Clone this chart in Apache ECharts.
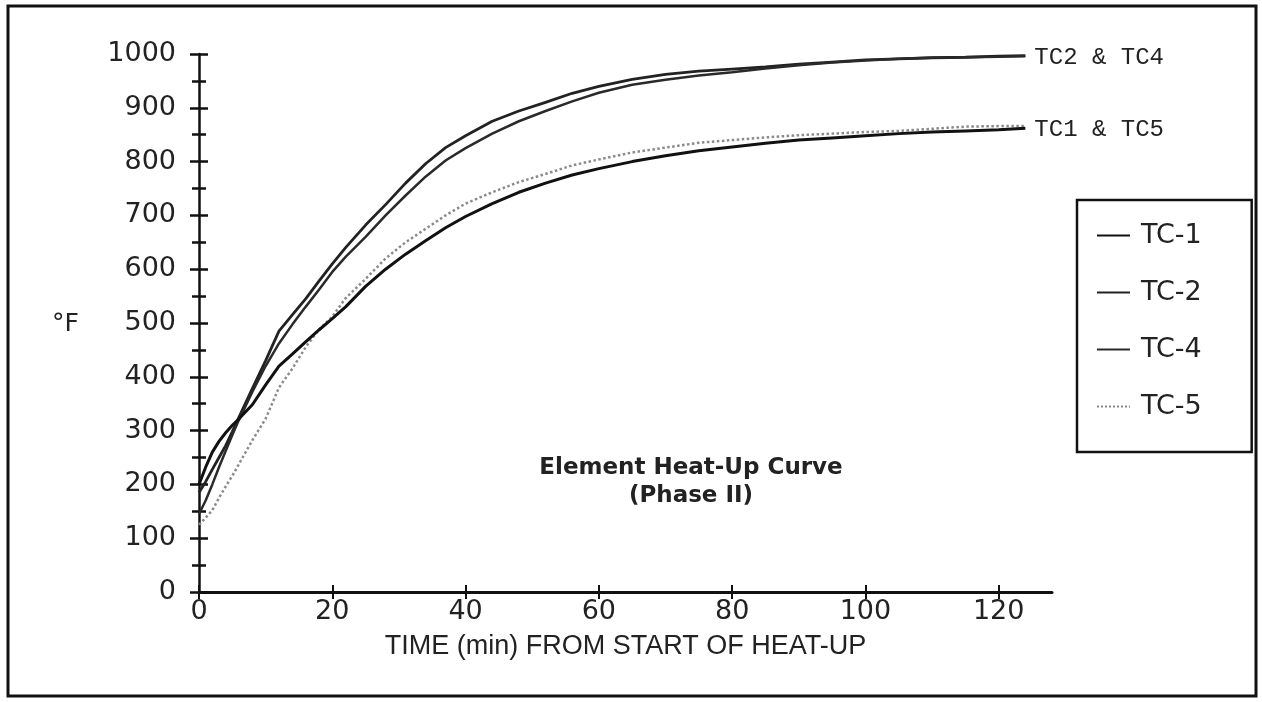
<!DOCTYPE html>
<html>
<head>
<meta charset="utf-8">
<script src="https://cdn.jsdelivr.net/npm/echarts@6/dist/echarts.min.js"></script>
<style>
html,body{margin:0;padding:0;background:#fff;}
#chart{width:1262px;height:702px;}
</style>
</head>
<body>
<div id="chart"></div>
<script>
// time (min) from start of heat-up
const times = [0,1,2,3,4,5,6,8,10,12,14,16,18,20,22,25,28,31,34,37,40,44,48,52,56,60,65,70,75,80,85,90,95,100,105,110,115,120,124];
const tc1 = [200,232,260,280,296,310,322,348,385,420,442,465,487,508,530,568,600,628,653,677,698,722,743,760,775,787,800,811,820,827,834,840,844,848,852,855,857,859,862];
const tc2 = [185,205,228,250,272,298,325,378,430,485,515,545,578,610,640,682,720,760,796,826,848,875,894,910,927,940,953,962,968,972,976,981,985,989,991,993,994,996,997];
const tc4 = [145,170,200,232,262,292,320,372,420,462,497,530,562,595,623,660,700,737,772,802,825,852,875,894,912,928,943,952,960,966,973,979,984,988,991,993,994,995,996];
const tc5 = [125,138,152,175,196,216,238,282,322,380,415,455,488,512,546,582,620,650,675,700,722,743,762,777,793,804,817,826,835,840,845,849,852,855,857,861,865,866,866];
const xTicks = [0,20,40,60,80,100,120];
const seriesNames = ['TC-1','TC-2','TC-4','TC-5'];
const xTitle = 'TIME (min) FROM START OF HEAT-UP';
const yTitle = '°F';
const chartTitle = 'Element Heat-Up Curve\n(Phase II)';
const pairTop = 'TC2 & TC4';
const pairBottom = 'TC1 & TC5';

const pts = vals => times.map((t, i) => [t, vals[i]]);
const numFont = 'DejaVu Sans';
const chart = echarts.init(document.getElementById('chart'), null, {renderer: 'canvas'});

const endLbl = (txt, dy) => ({
  show: true, formatter: txt, distance: 9, offset: [0, dy],
  fontFamily: 'Liberation Mono', fontSize: 24, color: '#222'
});

chart.setOption({
  animation: false,
  backgroundColor: '#fff',
  grid: {left: 199, right: 210, top: 54, bottom: 110, containLabel: false},
  title: {
    text: chartTitle, left: 686, top: 449, textAlign: 'center',
    textStyle: {fontFamily: numFont, fontWeight: 'bold', fontSize: 23, lineHeight: 28, color: '#222'}
  },
  legend: {
    orient: 'vertical', left: 1077, top: 200,
    padding: [22, 50, 32, 19], itemGap: 30, itemWidth: 33, itemHeight: 20,
    borderColor: '#111', borderWidth: 2.5,
    itemStyle: {opacity: 0},
    textStyle: {fontFamily: numFont, fontSize: 27, color: '#222', padding: [0, 0, 0, 6]},
    data: seriesNames
  },
  xAxis: [{
    type: 'value', min: 0, max: 128, interval: 20, position: 'bottom',
    name: xTitle, nameLocation: 'middle', nameGap: 41,
    nameTextStyle: {fontFamily: 'Liberation Sans', fontSize: 27, color: '#222'},
    axisLine: {show: true, lineStyle: {color: '#111', width: 3}},
    axisTick: {show: true, customValues: xTicks, length: 7, lineStyle: {color: '#111', width: 2}},
    axisLabel: {customValues: xTicks, margin: 6, fontFamily: numFont, fontSize: 27, color: '#222'},
    splitLine: {show: false}
  }, {
    type: 'value', min: 0, max: 128, interval: 20, position: 'bottom',
    axisLine: {show: false},
    axisTick: {show: true, inside: true, customValues: xTicks, length: 7, lineStyle: {color: '#111', width: 2}},
    axisLabel: {show: false},
    splitLine: {show: false}
  }],
  yAxis: [{
    type: 'value', min: 0, max: 1000, interval: 100, position: 'left',
    axisLine: {show: true, lineStyle: {color: '#111', width: 2.5}},
    axisTick: {show: true, length: 9, lineStyle: {color: '#111', width: 2.5}},
    minorTick: {show: true, splitNumber: 2, length: 7, lineStyle: {color: '#111', width: 2.5}},
    axisLabel: {margin: 23, fontFamily: numFont, fontSize: 27, color: '#222', formatter: v => String(v)},
    splitLine: {show: false}
  }, {
    type: 'value', min: 0, max: 1000, interval: 100, position: 'left',
    axisLine: {show: false},
    axisTick: {show: true, inside: true, length: 9, lineStyle: {color: '#111', width: 2.5}},
    minorTick: {show: true, splitNumber: 2, length: 7, lineStyle: {color: '#111', width: 2.5}},
    axisLabel: {show: false},
    splitLine: {show: false}
  }],
  graphic: [
    {type: 'rect', shape: {x: 8, y: 6, width: 1248, height: 690}, style: {fill: 'none', stroke: '#111', lineWidth: 3}, z: 100},
    {type: 'text', left: 52, top: 312, style: {text: yTitle, fontFamily: numFont, fontSize: 25, fill: '#222'}}
  ],
  series: [
    {name: 'TC-1', type: 'line', symbol: 'none', data: pts(tc1), lineStyle: {color: '#111', width: 3}, itemStyle: {color: '#111'}, z: 4},
    {name: 'TC-2', type: 'line', symbol: 'none', data: pts(tc2), lineStyle: {color: '#222', width: 2.8}, itemStyle: {color: '#222'},
      endLabel: endLbl(pairTop, 2), z: 3},
    {name: 'TC-4', type: 'line', symbol: 'none', data: pts(tc4), lineStyle: {color: '#2a2a2a', width: 2.5}, itemStyle: {color: '#2a2a2a'}, z: 3},
    {name: 'TC-5', type: 'line', symbol: 'none', data: pts(tc5), lineStyle: {color: '#8a8a8a', width: 2.5, type: 'dotted'}, itemStyle: {color: '#8a8a8a'},
      endLabel: endLbl(pairBottom, 4), z: 2}
  ]
});
</script>
</body>
</html>
